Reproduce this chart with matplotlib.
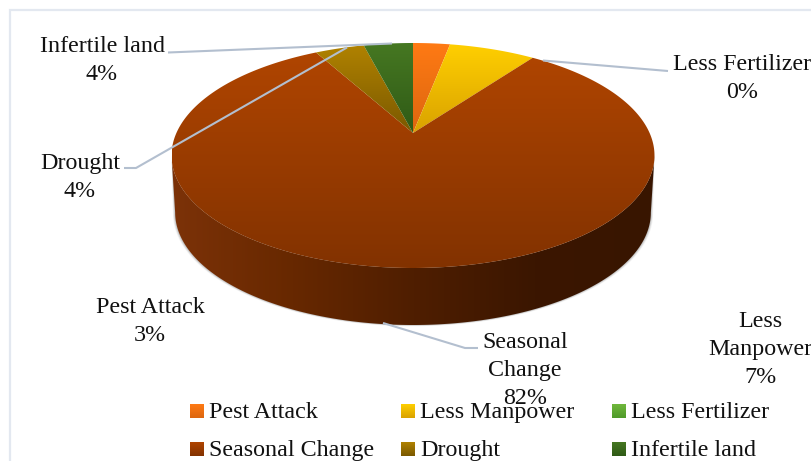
import numpy as np
import matplotlib
matplotlib.use("Agg")
import matplotlib.pyplot as plt
from matplotlib.colors import LinearSegmentedColormap
from matplotlib.patches import Polygon, Rectangle

plt.rcParams["font.family"] = ["Liberation Serif", "DejaVu Serif"]

# Share of respondents per cause, percent
categories = ["Pest Attack", "Less Manpower", "Less Fertilizer",
              "Seasonal Change", "Drought", "Infertile land"]
shares = [3, 7, 0, 82, 4, 4]

# Light and dark ends of each slice's vertical shading
light_tones = ["#ff7a14", "#ffcf00", "#70b83c", "#b04500", "#b08200", "#467822"]
dark_tones = ["#dc660f", "#d9a200", "#4f9a2a", "#823200", "#7a5800", "#2f5a16"]

W, H = 811, 461
CX, APEX_Y = 413.0, 133.0
RADIUS_X, PERSPECTIVE, RADIUS_Y = 236.6, 0.2, 108.0
THICKNESS = 57.0
FONT = 17.3
LINE_STEP = 28
TEXT_COLOR = "#111111"

fig = plt.figure(figsize=(W / 100, H / 100), dpi=100, facecolor="white")
ax = fig.add_axes([0, 0, 1, 1])
ax.set_xlim(0, W)
ax.set_ylim(H, 0)
ax.axis("off")


def rim_point(theta, drop=0.0, shrink=1.0):
    """Project an angle on the tilted pie (clockwise from the top) to the canvas."""
    u, v = np.sin(theta), -np.cos(theta)
    denom = 1 - PERSPECTIVE * v
    return (CX + shrink * RADIUS_X * u / denom,
            APEX_Y + RADIUS_Y * v / denom + drop)


def shaded(poly, colors, vertical=True, zorder=2):
    """Fill a polygon with a linear gradient clipped to its outline."""
    xs, ys = poly[:, 0], poly[:, 1]
    cmap = LinearSegmentedColormap.from_list("fill", colors)
    ramp = np.linspace(0, 1, 256)
    ramp = ramp[:, None] if vertical else ramp[None, :]
    im = ax.imshow(ramp, cmap=cmap, aspect="auto", zorder=zorder,
                   extent=[xs.min(), xs.max(), ys.max(), ys.min()],
                   interpolation="bilinear")
    clip = Polygon(poly, closed=True, transform=ax.transData, fc="none", ec="none")
    ax.add_patch(clip)
    im.set_clip_path(clip)


# Chart frame, running off the right and lower edges
ax.add_patch(Rectangle((9.5, 10.5), W + 20, H + 20, fc="white", ec="#e3e8f0", lw=1.6, zorder=0))

# Side wall of the pie, swept between the points where the rim is widest
widest = np.arccos(-PERSPECTIVE)
sweep = np.linspace(widest, 2 * np.pi - widest, 400)
top_x, top_y = rim_point(sweep)
low_x, low_y = rim_point(sweep, THICKNESS, 0.985)
wall = np.column_stack([np.r_[top_x, low_x[::-1]], np.r_[top_y, low_y[::-1]]])

# Soft shadow hugging the lower rim
for grow, alpha in [(3.0, 0.10), (2.0, 0.16), (1.0, 0.25)]:
    sx, sy = rim_point(sweep, THICKNESS + grow * 0.4, 0.985 + grow * 0.003)
    ax.fill(np.r_[top_x, sx[::-1]], np.r_[top_y, sy[::-1]], color="#777777",
            alpha=alpha, lw=0, zorder=1)

shaded(wall, ["#7c3208", "#672800", "#4f1e00", "#3b1600", "#381500"], vertical=False, zorder=2)

# Top face wedges, clockwise from twelve o'clock
edges = np.r_[0, np.cumsum(shares)] / sum(shares) * 2 * np.pi
for i, share in enumerate(shares):
    if share == 0:
        continue
    arc = np.linspace(edges[i], edges[i + 1], max(int(share * 12), 12))
    x, y = rim_point(arc)
    wedge = np.column_stack([np.r_[CX, x], np.r_[APEX_Y, y]])
    shaded(wedge, [light_tones[i], dark_tones[i]], zorder=3)

# Leader lines between slices and their labels
LEADER = dict(color="#b3bfcf", lw=1.5, zorder=5, solid_capstyle="butt")
ax.plot([168, 392], [52.5, 43.5], **LEADER)
ax.plot([124, 136, 347], [168, 168, 47.5], **LEADER)
ax.plot([668, 543], [71, 60.5], **LEADER)
ax.plot([383, 465, 478], [323, 348, 348], **LEADER)

# Slice labels: name and rounded percentage
label_spots = {
    "Pest Attack": (150, 307, None),
    "Less Manpower": (760, 321, "Less\nManpower"),
    "Less Fertilizer": (742, 65, None),
    "Seasonal Change": (525, 342, "Seasonal\nChange"),
    "Drought": (80, 163, None),
    "Infertile land": (102, 47, None),
}
for name, share in zip(categories, shares):
    px, py, wrapped = label_spots[name]
    lines = f"{wrapped or name}\n{share}%".split("\n")
    for k, line in enumerate(lines):
        ax.text(px, py + k * LINE_STEP, line, ha="center", va="center", fontsize=FONT,
                color=TEXT_COLOR, zorder=6)

# Legend in two rows of three
col_x = [190, 401, 612]
row_y = [411, 449]
for i, name in enumerate(categories):
    sx, sy = col_x[i % 3], row_y[i // 3]
    box = np.array([[sx, sy - 7], [sx + 14, sy - 7], [sx + 14, sy + 7], [sx, sy + 7]], float)
    shaded(box, [light_tones[i], dark_tones[i]], zorder=6)
    ax.text(sx + 19, sy + 1, name, ha="left", va="center", fontsize=FONT,
            color=TEXT_COLOR, zorder=7)

ax.set_xlim(0, W)
ax.set_ylim(H, 0)
fig.savefig("out.png", dpi=100)
